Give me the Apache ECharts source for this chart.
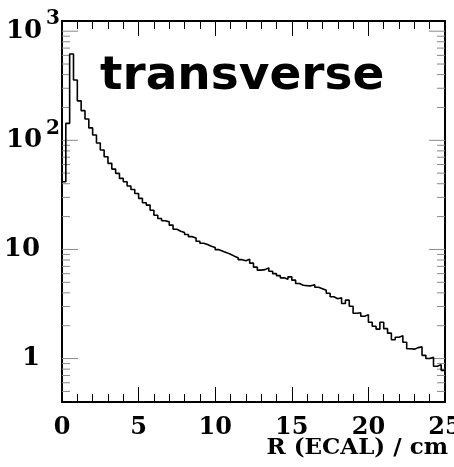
<!DOCTYPE html>
<html>
<head>
<meta charset="utf-8">
<script src="https://cdn.jsdelivr.net/npm/echarts@6/dist/echarts.min.js"></script>
<style>
  html, body { margin: 0; padding: 0; background: #fff; }
  #chart { width: 454px; height: 467px; }
</style>
</head>
<body>
<div id="chart"></div>
<script>
// Transverse shower profile: entries per 0.25 cm bin of R (ECAL), 0 to 25 cm
const binLow = 0;
const binWidth = 0.25;
const binCounts = [
  41.7, 143, 619, 357, 230, 187, 157, 130, 112, 94.5,
  81.5, 70.7, 61.5, 54.5, 49.8, 44.8, 41.7, 38.1, 35.4, 32.6,
  29.4, 26.8, 25.5, 22.9, 20.6, 19.2, 18.3, 17.9, 16.7, 15.3,
  14.7, 14.3, 13.7, 13.1, 12.7, 11.9, 11.4, 11.1, 10.7, 10.4,
  9.96, 9.65, 9.35, 9.05, 8.68, 8.41, 8.06, 7.89, 8.15, 7.49,
  6.88, 6.46, 6.53, 6.78, 6.32, 6.00, 5.75, 5.49, 5.34, 5.61,
  5.23, 4.88, 4.70, 4.66, 4.64, 4.75, 4.51, 4.37, 4.23, 3.97,
  3.69, 3.54, 3.61, 3.20, 3.43, 3.02, 2.60, 2.63, 2.44, 2.52,
  2.15, 1.98, 1.86, 2.15, 1.88, 1.71, 1.49, 1.57, 1.62, 1.41,
  1.23, 1.22, 1.26, 1.28, 1.07, 1.00, 1.03, 0.85, 0.88, 0.78
];

const xRange = [0, 25];
const yRange = [0.4, 1240];
const yDecades = [1, 10, 100, 1000];
const yMinorTicks = [
  0.5, 0.6, 0.7, 0.8, 0.9,
  2, 3, 4, 5, 6, 7, 8, 9,
  20, 30, 40, 50, 60, 70, 80, 90,
  200, 300, 400, 500, 600, 700, 800, 900
];
const titleText = 'transverse';
const xAxisName = 'R (ECAL) / cm';

// Histogram outline: each bin's low edge with its content, closed at the last high edge
const stepData = binCounts.map((c, i) => [binLow + i * binWidth, c]);
stepData.push([binLow + binCounts.length * binWidth, binCounts[binCounts.length - 1]]);

// Log-axis tick marks on both the left and right frame edges
const tickData = yDecades.map(v => [xRange[0], v, 1])
  .concat(yMinorTicks.map(v => [xRange[0], v, 0]));

const serif = 'DejaVu Serif';

const chart = echarts.init(document.getElementById('chart'), null, { renderer: 'canvas' });

const xCommon = {
  type: 'value',
  min: xRange[0],
  max: xRange[1],
  interval: 5,
  splitLine: { show: false },
  axisLine: { show: true, onZero: false, lineStyle: { color: '#000', width: 2 } },
  axisTick: { show: true, inside: true, length: 15, lineStyle: { color: '#000', width: 1 } },
  minorTick: { show: true, splitNumber: 5, length: 8, lineStyle: { color: '#000', width: 1 } },
  minorSplitLine: { show: false }
};

chart.setOption({
  animation: false,
  backgroundColor: '#fff',
  grid: { left: 62, right: 9, top: 21, bottom: 65, containLabel: false, outerBoundsMode: 'none' },
  xAxis: [
    Object.assign({}, xCommon, {
      position: 'bottom',
      axisLabel: {
        show: true, margin: 14, color: '#000', hideOverlap: false,
        fontFamily: serif, fontWeight: 'bold', fontSize: 24
      }
    }),
    Object.assign({}, xCommon, {
      position: 'top',
      axisLabel: { show: false }
    })
  ],
  yAxis: [
    {
      type: 'log',
      logBase: 10,
      min: yRange[0],
      max: yRange[1],
      position: 'left',
      splitLine: { show: false },
      minorTick: { show: false },
      axisTick: { show: false },
      axisLine: { show: true, onZero: false, lineStyle: { color: '#000', width: 2 } },
      axisLabel: {
        show: true,
        margin: 2,
        showMinLabel: true,
        showMaxLabel: true,
        formatter: function (v) {
          const lg = Math.log10(v);
          const e = Math.round(lg);
          if (Math.abs(lg - e) > 1e-6) return '';
          if (e === 0) return '{bp|1}';
          if (e === 1) return '{bp|10}';
          return '{b|10}{sup|' + e + '}';
        },
        rich: {
          b: { fontFamily: serif, fontWeight: 'bold', fontSize: 26, lineHeight: 26, color: '#000' },
          bp: { fontFamily: serif, fontWeight: 'bold', fontSize: 26, lineHeight: 26, color: '#000', padding: [0, 20, 0, 0] },
          sup: { fontFamily: serif, fontWeight: 'bold', fontSize: 20, lineHeight: 20, color: '#000', padding: [0, 0, 24, 4] }
        }
      }
    },
    {
      type: 'log',
      logBase: 10,
      min: yRange[0],
      max: yRange[1],
      position: 'right',
      splitLine: { show: false },
      minorTick: { show: false },
      axisTick: { show: false },
      axisLabel: { show: false },
      axisLine: { show: true, onZero: false, lineStyle: { color: '#000', width: 2 } }
    }
  ],
  graphic: [
    {
      type: 'text',
      left: 100,
      top: 53,
      z: 100,
      style: {
        text: titleText,
        fill: '#000',
        font: 'bold 47px "DejaVu Sans", sans-serif'
      }
    },
    {
      type: 'text',
      right: 6,
      top: 437,
      z: 100,
      style: {
        text: xAxisName,
        fill: '#000',
        font: 'bold 23px "DejaVu Serif", serif'
      }
    }
  ],
  series: [
    {
      type: 'custom',
      xAxisIndex: 0,
      yAxisIndex: 0,
      silent: true,
      clip: false,
      z: 1,
      data: tickData,
      renderItem: function (params, api) {
        const v = api.value(1);
        const len = api.value(2) ? 16 : 8;
        const pL = api.coord([xRange[0], v]);
        const pR = api.coord([xRange[1], v]);
        return {
          type: 'group',
          children: [
            { type: 'line', shape: { x1: pL[0], y1: pL[1], x2: pL[0] + len, y2: pL[1] }, style: { stroke: '#888', lineWidth: 1 } },
            { type: 'line', shape: { x1: pR[0], y1: pR[1], x2: pR[0] - len, y2: pR[1] }, style: { stroke: '#888', lineWidth: 1 } }
          ]
        };
      }
    },
    {
      type: 'line',
      xAxisIndex: 0,
      yAxisIndex: 0,
      step: 'end',
      symbol: 'none',
      z: 3,
      data: stepData,
      lineStyle: { color: '#000', width: 1.6 }
    }
  ]
});
</script>
</body>
</html>
